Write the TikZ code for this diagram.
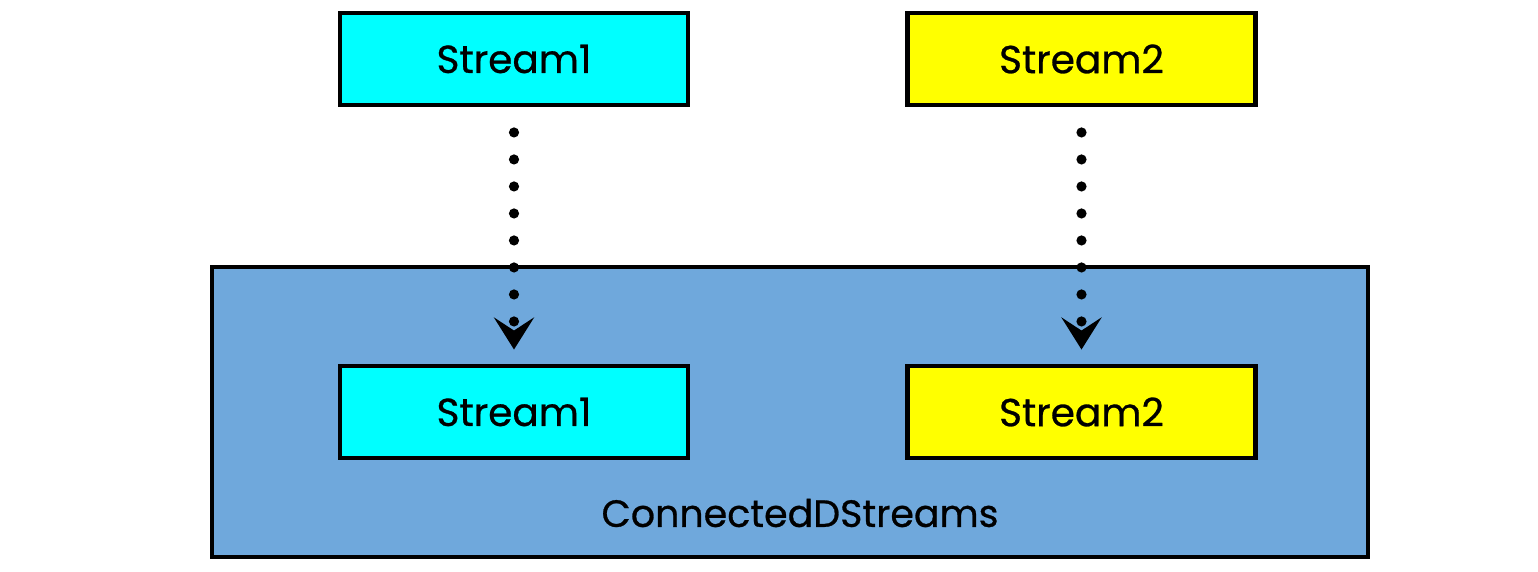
\documentclass[tikz,border=0pt]{standalone}
\usepackage{fontspec}
\setmainfont{Poppins}[FakeBold=0.7]
\usetikzlibrary{arrows.meta, positioning}

\definecolor{streamcyan}{HTML}{00FFFF}
\definecolor{streamyellow}{HTML}{FFFF00}
\definecolor{connblue}{HTML}{6FA8DC}

\begin{document}
\begin{tikzpicture}[
    >=Stealth,
    streambox/.style={draw, line width=1.4pt, minimum width=3.48cm,
                      minimum height=0.92cm, font=\fontsize{11.1}{13}\selectfont},
    flow/.style={line width=2.9pt, line cap=round, dash pattern=on 0pt off 0.27cm,
                 -{Stealth[length=3.2mm, width=4mm, inset=1.3mm]},
                 shorten <=0.25cm, shorten >=0.14cm}
  ]
  \useasboundingbox (0,0) rectangle (15.38,5.71);

  % Container
  \node[draw, line width=1.4pt, fill=connblue, minimum width=11.56cm,
        minimum height=2.90cm] (conn) at (7.90, 1.59) {};
  \node[font=\fontsize{10.8}{13}\selectfont] (connlabel) at (8.0, 0.58)
    {ConnectedDStreams};

  % Input streams
  \node[streambox, fill=streamcyan] (s1) at (5.14, 5.12) {Stream1};
  \node[streambox, fill=streamyellow] (s2) at (10.815, 5.12) {Stream2};

  % Inside the connected stream
  \node[streambox, fill=streamcyan] (c1) at (5.14, 1.59) {Stream1};
  \node[streambox, fill=streamyellow] (c2) at (10.815, 1.59) {Stream2};

  \draw[flow] (s1) -- (c1);
  \draw[flow] (s2) -- (c2);
\end{tikzpicture}
\end{document}
